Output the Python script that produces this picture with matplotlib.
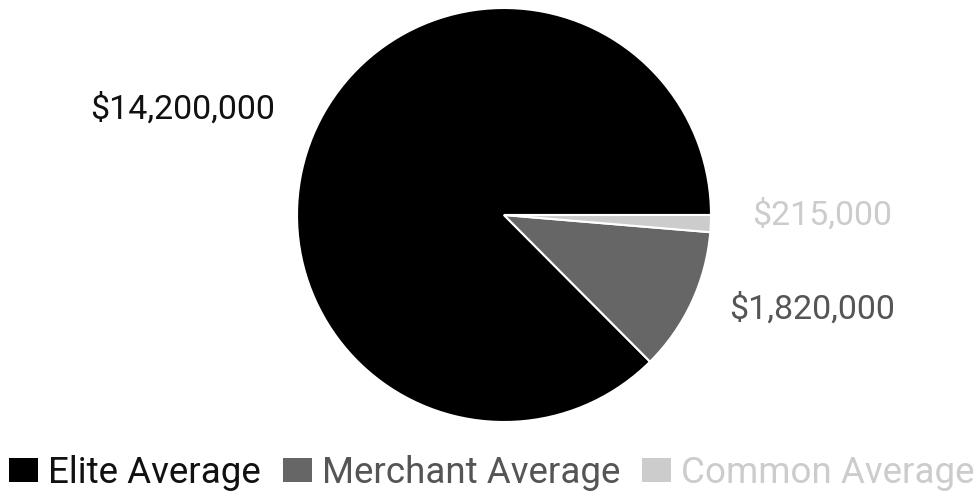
import matplotlib.pyplot as plt
from matplotlib.transforms import ScaledTranslation

# data
categories = ['Elite Average', 'Merchant Average', 'Common Average']
values = [14200000, 1820000, 215000]
labels = ['$14,200,000', '$1,820,000', '$215,000']
colors = ['#000000', '#666666', '#cccccc']
label_colors = ['#111111', '#555555', '#cccccc']

plt.rcParams['font.family'] = ['Roboto', 'DejaVu Sans']

fig = plt.figure(figsize=(9.77, 4.93), dpi=100)
W, H = 977, 493
cx, cy, r = 504, 215, 207
ax = fig.add_axes([(cx - r) / W, (H - cy - r) / H, 2 * r / W, 2 * r / H])

wedges, texts = ax.pie(values, labels=labels, colors=colors, startangle=0,
                       labeldistance=1.2, radius=1,
                       wedgeprops=dict(edgecolor='white', linewidth=1.5),
                       textprops=dict(fontsize=24.5))
# nudge labels up a little, like the original
shift = ScaledTranslation(0, 0.1, fig.dpi_scale_trans)
for t, c in zip(texts, label_colors):
    t.set_color(c)
    t.set_transform(t.get_transform() + shift)
ax.set_xlim(-1, 1)
ax.set_ylim(-1, 1)
ax.set_aspect('equal')

leg = fig.legend(wedges, categories, loc='center', bbox_to_anchor=(492 / W, 1 - 473 / H),
                 ncol=3, frameon=False, fontsize=26.5, handlelength=0.79, handleheight=0.62,
                 handletextpad=0.27, columnspacing=0.6)
for t, c in zip(leg.get_texts(), label_colors):
    t.set_color(c)
for h in leg.legend_handles:
    h.set_edgecolor('none')

fig.savefig('out.png', dpi=100)
